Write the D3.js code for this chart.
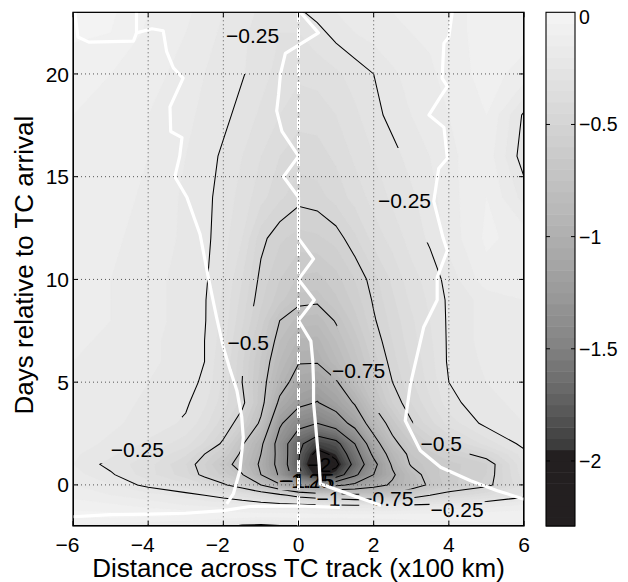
<!DOCTYPE html>
<html><head><meta charset="utf-8">
<script src="https://cdn.jsdelivr.net/npm/d3@7"></script>
<style>body{margin:0;background:#fff;} text{font-family:"Liberation Sans",Arial,Helvetica,sans-serif;fill:#000;}</style>
</head><body><svg id="c" width="628" height="582"></svg>
<script>
// ---------------- DATA ----------------
const xCols = [-6,-5,-4,-3,-2.5,-2,-1.5,-1,-0.5,0,0.5,1,1.5,2,2.5,3,3.5,4,5,6];
const yRows = [-2,-1.5,-1,-0.5,0,0.5,1,1.5,2,3,4,5,6,7,8,9,10,12,14,16,18,20,22,23];
// rows listed bottom (y=-2) to top (y=23)
const row_m2   = [-0.12,-0.13,-0.14,-0.16,-0.18,-0.22,-0.27,-0.28,-0.26,-0.22,-0.2,-0.18,-0.17,-0.16,-0.15,-0.15,-0.14,-0.14,-0.13,-0.12];
const row_m1_5 = [-0.03,-0.03,-0.04,-0.05,-0.05,-0.06,-0.06,-0.07,-0.07,-0.07,-0.08,-0.08,-0.08,-0.08,-0.08,-0.07,-0.07,-0.06,-0.06,-0.06];
const row_m1   = [-0.07,-0.09,-0.12,-0.15,-0.16,-0.17,-0.18,-0.19,-0.2,-0.21,-0.22,-0.23,-0.24,-0.245,-0.24,-0.23,-0.22,-0.21,-0.18,-0.14];
const row_m0_5 = [-0.12,-0.15,-0.18,-0.22,-0.25,-0.28,-0.32,-0.38,-0.46,-0.56,-0.62,-0.66,-0.7,-0.72,-0.7,-0.6,-0.5,-0.44,-0.36,-0.28];
const row_0    = [-0.15,-0.2,-0.27,-0.34,-0.4,-0.48,-0.58,-0.75,-0.97,-1.2,-1.35,-1.3,-1.2,-1.08,-0.97,-0.85,-0.72,-0.62,-0.53,-0.35];
const row_0_5  = [-0.18,-0.24,-0.33,-0.43,-0.53,-0.62,-0.74,-1.0,-1.28,-1.68,-2.02,-1.9,-1.55,-1.25,-1.03,-0.83,-0.68,-0.62,-0.55,-0.32];
const row_1    = [-0.2,-0.27,-0.33,-0.45,-0.55,-0.68,-0.83,-1.03,-1.33,-1.75,-2.22,-2.05,-1.68,-1.32,-0.97,-0.73,-0.68,-0.62,-0.56,-0.3];
const row_1_5  = [-0.19,-0.24,-0.3,-0.39,-0.5,-0.6,-0.78,-1.0,-1.33,-1.73,-2.08,-1.94,-1.6,-1.2,-0.9,-0.7,-0.62,-0.56,-0.45,-0.27];
const row_2    = [-0.18,-0.21,-0.26,-0.33,-0.41,-0.52,-0.73,-0.96,-1.35,-1.7,-1.9,-1.82,-1.5,-1.1,-0.8,-0.65,-0.55,-0.46,-0.33,-0.23];
const row_3    = [-0.17,-0.19,-0.22,-0.26,-0.33,-0.43,-0.56,-0.78,-1.22,-1.42,-1.5,-1.38,-1.17,-0.88,-0.68,-0.51,-0.42,-0.33,-0.23,-0.2];
const row_4    = [-0.16,-0.18,-0.21,-0.24,-0.29,-0.38,-0.47,-0.69,-1.04,-1.2,-1.26,-1.15,-0.98,-0.73,-0.55,-0.45,-0.36,-0.27,-0.21,-0.19];
const row_5    = [-0.15,-0.17,-0.2,-0.23,-0.26,-0.36,-0.5,-0.68,-0.92,-1.08,-1.12,-1.02,-0.81,-0.65,-0.5,-0.41,-0.33,-0.25,-0.2,-0.18];
const row_6    = [-0.15,-0.17,-0.19,-0.22,-0.25,-0.35,-0.49,-0.66,-0.85,-0.99,-0.99,-0.86,-0.73,-0.58,-0.47,-0.39,-0.32,-0.24,-0.19,-0.17];
const row_7    = [-0.14,-0.16,-0.19,-0.22,-0.25,-0.33,-0.47,-0.62,-0.8,-0.91,-0.92,-0.8,-0.68,-0.54,-0.45,-0.37,-0.31,-0.24,-0.18,-0.16];
const row_8    = [-0.14,-0.15,-0.18,-0.22,-0.245,-0.32,-0.44,-0.57,-0.75,-0.82,-0.83,-0.74,-0.62,-0.51,-0.43,-0.36,-0.3,-0.24,-0.18,-0.15];
const row_9    = [-0.13,-0.15,-0.18,-0.22,-0.245,-0.31,-0.42,-0.54,-0.63,-0.72,-0.73,-0.66,-0.58,-0.49,-0.41,-0.34,-0.29,-0.24,-0.18,-0.15];
const row_10   = [-0.13,-0.15,-0.18,-0.22,-0.24,-0.3,-0.4,-0.52,-0.6,-0.66,-0.67,-0.62,-0.55,-0.47,-0.39,-0.32,-0.28,-0.23,-0.12,-0.12];
const row_12   = [-0.12,-0.14,-0.17,-0.21,-0.235,-0.28,-0.35,-0.48,-0.54,-0.57,-0.56,-0.53,-0.46,-0.38,-0.33,-0.28,-0.24,-0.18,-0.09,-0.12];
const row_14   = [-0.11,-0.13,-0.16,-0.21,-0.235,-0.27,-0.32,-0.38,-0.44,-0.48,-0.47,-0.43,-0.38,-0.33,-0.29,-0.26,-0.22,-0.17,-0.1,-0.22];
const row_16   = [-0.1,-0.12,-0.15,-0.2,-0.225,-0.26,-0.3,-0.35,-0.4,-0.43,-0.42,-0.39,-0.34,-0.3,-0.27,-0.23,-0.2,-0.16,-0.12,-0.28];
const row_18   = [-0.1,-0.12,-0.15,-0.19,-0.21,-0.235,-0.27,-0.31,-0.35,-0.38,-0.38,-0.35,-0.31,-0.27,-0.23,-0.2,-0.18,-0.15,-0.1,-0.26];
const row_20   = [-0.08,-0.1,-0.13,-0.17,-0.2,-0.22,-0.245,-0.28,-0.32,-0.34,-0.33,-0.31,-0.28,-0.25,-0.21,-0.18,-0.16,-0.13,-0.08,-0.12];
const row_22   = [-0.04,-0.05,-0.11,-0.15,-0.18,-0.21,-0.24,-0.27,-0.3,-0.3,-0.27,-0.23,-0.2,-0.18,-0.16,-0.15,-0.14,-0.12,-0.08,-0.08];
const row_23   = [-0.03,-0.04,-0.1,-0.14,-0.17,-0.2,-0.23,-0.26,-0.28,-0.26,-0.23,-0.2,-0.18,-0.16,-0.15,-0.14,-0.13,-0.12,-0.08,-0.08];

const xTicks = [-6,-4,-2,0,2,4,6];
const yTicks = [0,5,10,15,20];
const cbTicks = [0,-0.5,-1,-1.5,-2];
const lineLevels = [-2,-1.75,-1.5,-1.25,-1,-0.75,-0.5,-0.25];
const cmapValues = [0,-0.25,-0.5,-0.75,-1,-1.25,-1.5,-1.75,-1.93,-1.95,-2.4];
const cmapColors = ["#f5f5f5","#e5e5e5","#d4d4d4","#c2c2c2","#afafaf","#9a9a9a","#818181","#5e5e5e","#3c3c3c","#231f20","#231f20"];

const centerLine = [[0.05,23],[0.53,22],[-0.35,21],[-0.48,20],[-0.53,19],[-0.58,18.2],[-0.44,17.2],[0,16],[-0.4,15],[0,14],[0,13],[0,12],[0.4,11],[0,10],[0.42,9],[0,8],[0.33,7],[0.38,6],[0.4,5],[0.4,4],[0.45,3],[0.5,2],[0.55,1],[0.58,0.05],[2.2,-1]];
const leftLoop = [[-5.95,23],[-5.87,21.8],[-5.58,21.55],[-4.39,21.6],[-4.31,22.0],[-4.31,23]];
const leftLine = [[-4.31,22.0],[-3.9,22.2],[-3.6,22.1],[-3.51,21.1],[-3.33,20.3],[-3.07,19.8],[-3.42,18.4],[-3.4,17.2],[-3.1,16.9],[-3.16,16],[-3.29,15],[-2.97,14],[-2.62,12.2],[-2.4,10.1],[-2.18,8.16],[-2.0,6.7],[-1.82,5.6],[-1.64,4.6],[-1.51,3.3],[-1.47,2.3],[-1.56,0.7],[-1.73,-0.42],[-1.91,-0.92]];
const rightLine = [[4.09,23],[4.0,21.8],[3.87,21.5],[3.82,19.8],[3.96,19.4],[3.78,18.9],[3.47,18],[3.87,17.4],[3.96,15.9],[3.73,15.4],[3.6,13.8],[3.85,12.0],[3.96,11.4],[3.69,10.1],[3.69,9.0],[3.33,7.67],[2.98,4.92],[2.84,3.13],[3.24,1.67],[3.78,0.86],[4.58,0.2],[5.29,-0.28],[5.96,-0.67],[6,-0.69]];
const bottomLine = [[-6,-1.55],[-5,-1.45],[-4,-1.42],[-3,-1.38],[-2,-1.25],[-1.3,-1.05],[0,-1.02],[1.1,-1.1]];

const contourLabels = [
  {t:"\u22120.25", x:-1.22, y:21.86},
  {t:"\u22120.25", x:2.82, y:13.83},
  {t:"\u22120.5", x:-1.34, y:6.94},
  {t:"\u22120.75", x:1.6, y:5.56},
  {t:"\u22120.25", x:-4.29, y:1.75},
  {t:"\u22120.5", x:3.8, y:2.0},
  {t:"\u22120.25", x:4.22, y:-1.17},
  {t:"\u22120.75", x:2.35, y:-0.68},
  {t:"\u22121.25", x:0.19, y:0.21},
  {t:"\u22121.75", x:0.25, y:0.21},
  {t:"\u22121", x:0.8, y:-0.67},
  {t:"\u22122", x:0.55, y:1.0}
];
const gapPolys = [
  [[-2.0,20.0],[-0.5,20.0],[-0.5,23],[-2.0,23]],
  [[2.3,11.8],[3.6,11.8],[3.6,16.4],[2.3,16.4]],
  [[-1.95,5.3],[-0.9,5.3],[-0.9,8.7],[-1.95,8.7]],
  [[1.0,7.75],[1.45,7.75],[2.25,3.5],[1.85,3.5]],
  [[3.05,1.45],[4.55,1.45],[4.55,3.15],[3.05,3.15]],
  [[-5.33,1.05],[-3.1,1.05],[-3.1,3.3],[-5.33,3.3]]
];

// ---------------- LAYOUT ----------------
const svg = d3.select("#c");
const P = {l:73, r:524, t:12.3, b:526};
const xS = d3.scaleLinear([-6,6],[P.l,P.r]);
const yS = d3.scaleLinear([-2,23],[P.b,P.t]);
const cb = {l:546, r:575};
const cbS = d3.scaleLinear([-2.29,0],[P.b,P.t]);
const color = d3.scaleLinear().domain(cmapValues).range(cmapColors).clamp(true);

const field = [row_m2,row_m1_5,row_m1,row_m0_5,row_0,row_0_5,row_1,row_1_5,row_2,row_3,row_4,row_5,row_6,row_7,row_8,row_9,row_10,row_12,row_14,row_16,row_18,row_20,row_22,row_23];
const n = xCols.length, m = yRows.length;
const values = field.flat();
const ix = d3.scaleLinear().domain(d3.range(n)).range(xCols);
const iy = d3.scaleLinear().domain(d3.range(m)).range(yRows);
const proj = d3.geoTransform({point(px,py){
  const a = Math.max(0, Math.min(n-1, px-0.5));
  const b = Math.max(0, Math.min(m-1, py-0.5));
  this.stream.point(xS(ix(a)), yS(iy(b)));
}});
const gpath = d3.geoPath(proj);

const defs = svg.append("defs");
defs.append("clipPath").attr("id","pclip").append("rect")
  .attr("x",P.l).attr("y",P.t).attr("width",P.r-P.l).attr("height",P.b-P.t);

// fill bands
const fillThr = d3.range(0,47).map(i => +(-2.3 + i*0.05).toFixed(2));
const gFill = svg.append("g").attr("clip-path","url(#pclip)");
gFill.append("rect").attr("x",P.l).attr("y",P.t).attr("width",P.r-P.l).attr("height",P.b-P.t)
  .attr("fill", color(-2.3));
const fills = d3.contours().size([n,m]).thresholds(fillThr)(values);
gFill.selectAll("path").data(fills).join("path")
  .attr("d", gpath)
  .attr("fill", d => color(d.value + 0.025))
  .attr("stroke", d => color(d.value + 0.025)).attr("stroke-width",0.3);

// mask for label gaps
const mask = defs.append("mask").attr("id","gapmask").attr("maskUnits","userSpaceOnUse")
  .attr("x",0).attr("y",0).attr("width",628).attr("height",582);
mask.append("rect").attr("x",0).attr("y",0).attr("width",628).attr("height",582).attr("fill","#fff");
mask.selectAll("polygon").data(gapPolys).join("polygon")
  .attr("points", d => d.map(p => xS(p[0])+","+yS(p[1])).join(" "))
  .attr("fill","#000");

// contour lines
const lines = d3.contours().size([n,m]).thresholds(lineLevels)(values);
const gLines = svg.append("g").attr("clip-path","url(#pclip)").append("g").attr("mask","url(#gapmask)");
gLines.selectAll("path").data(lines).join("path")
  .attr("d", gpath).attr("fill","none").attr("stroke","#000").attr("stroke-width",1.05);

// contour labels
const gLab = svg.append("g");
const labs = gLab.selectAll("text").data(contourLabels).join("text")
  .attr("x", d => xS(d.x)).attr("y", d => yS(d.y)).attr("dy","0.36em")
  .attr("text-anchor","middle").attr("font-size",21).text(d => d.t);
labs.each(function(){
  const b = this.getBBox();
  mask.append("rect").attr("x",b.x-1).attr("y",b.y+2).attr("width",b.width+2).attr("height",b.height-4).attr("fill","#000");
});

// white lines
const lineGen = d3.line().x(d => xS(d[0])).y(d => yS(d[1]));
const gW = svg.append("g").attr("clip-path","url(#pclip)");
gW.append("line").attr("x1",xS(0)).attr("x2",xS(0)).attr("y1",P.b).attr("y2",P.t)
  .attr("stroke","#fff").attr("stroke-width",3).attr("stroke-dasharray","12,6");
[centerLine,leftLoop,leftLine,rightLine,bottomLine].forEach(L => {
  gW.append("path").attr("d", lineGen(L)).attr("fill","none").attr("stroke","#fff")
    .attr("stroke-width",3.2).attr("stroke-linejoin","round");
});

// grid
const gG = svg.append("g").attr("stroke","#555").attr("stroke-width",1).attr("stroke-dasharray","1,3");
xTicks.filter(v => v>-6 && v<6).forEach(v => gG.append("line").attr("x1",xS(v)).attr("x2",xS(v)).attr("y1",P.t).attr("y2",P.b));
yTicks.forEach(v => gG.append("line").attr("y1",yS(v)).attr("y2",yS(v)).attr("x1",P.l).attr("x2",P.r));

// axes frame & ticks
const gA = svg.append("g");
gA.append("rect").attr("x",P.l).attr("y",P.t).attr("width",P.r-P.l).attr("height",P.b-P.t)
  .attr("fill","none").attr("stroke","#000").attr("stroke-width",1.2);
xTicks.forEach(v => {
  gA.append("line").attr("x1",xS(v)).attr("x2",xS(v)).attr("y1",P.b).attr("y2",P.b-5).attr("stroke","#000");
  gA.append("line").attr("x1",xS(v)).attr("x2",xS(v)).attr("y1",P.t).attr("y2",P.t+5).attr("stroke","#000");
  gA.append("text").attr("x",xS(v)).attr("dx", v<0 ? -5.5 : 0).attr("y",551.5).attr("text-anchor","middle").attr("font-size",21)
    .text(v<0 ? "\u2212"+Math.abs(v) : String(v));
});
yTicks.forEach(v => {
  gA.append("line").attr("y1",yS(v)).attr("y2",yS(v)).attr("x1",P.l).attr("x2",P.l+5).attr("stroke","#000");
  gA.append("line").attr("y1",yS(v)).attr("y2",yS(v)).attr("x1",P.r).attr("x2",P.r-5).attr("stroke","#000");
  gA.append("text").attr("x",69).attr("y",yS(v)).attr("dy","0.36em").attr("text-anchor","end").attr("font-size",21)
    .text(String(v));
});
gA.append("text").attr("x",(P.l+P.r)/2).attr("y",576.5).attr("text-anchor","middle").attr("font-size",26)
  .text("Distance across TC track (x100 km)");
gA.append("text").attr("transform","translate(33,"+((P.t+P.b)/2-4)+") rotate(-90)")
  .attr("text-anchor","middle").attr("font-size",26).text("Days relative to TC arrival");

// colorbar
const gC = svg.append("g");
const cbThr = d3.range(0,46).map(i => +(-2.3 + i*0.05).toFixed(2));
gC.selectAll("rect.band").data(cbThr).join("rect").attr("class","band")
  .attr("x",cb.l).attr("width",cb.r-cb.l)
  .attr("y", d => Math.max(P.t, cbS(d+0.05)))
  .attr("height", d => Math.min(P.b, cbS(d)) - Math.max(P.t, cbS(d+0.05)) + 0.5)
  .attr("fill", d => color(d+0.025));
gC.append("rect").attr("x",cb.l).attr("y",P.t).attr("width",cb.r-cb.l).attr("height",P.b-P.t)
  .attr("fill","none").attr("stroke","#000").attr("stroke-width",1.1);
cbTicks.forEach(v => {
  if (v < 0) {
    gC.append("line").attr("x1",cb.l).attr("x2",cb.l+4).attr("y1",cbS(v)).attr("y2",cbS(v)).attr("stroke","#000");
    gC.append("line").attr("x1",cb.r).attr("x2",cb.r-4).attr("y1",cbS(v)).attr("y2",cbS(v)).attr("stroke","#000");
  }
  gC.append("text").attr("x",579).attr("y",cbS(v)).attr("dy", v===0 ? "0.6em" : "0.36em").attr("font-size",19.5)
    .text(v<0 ? "\u2212"+Math.abs(v) : String(v));
});
</script></body></html>
